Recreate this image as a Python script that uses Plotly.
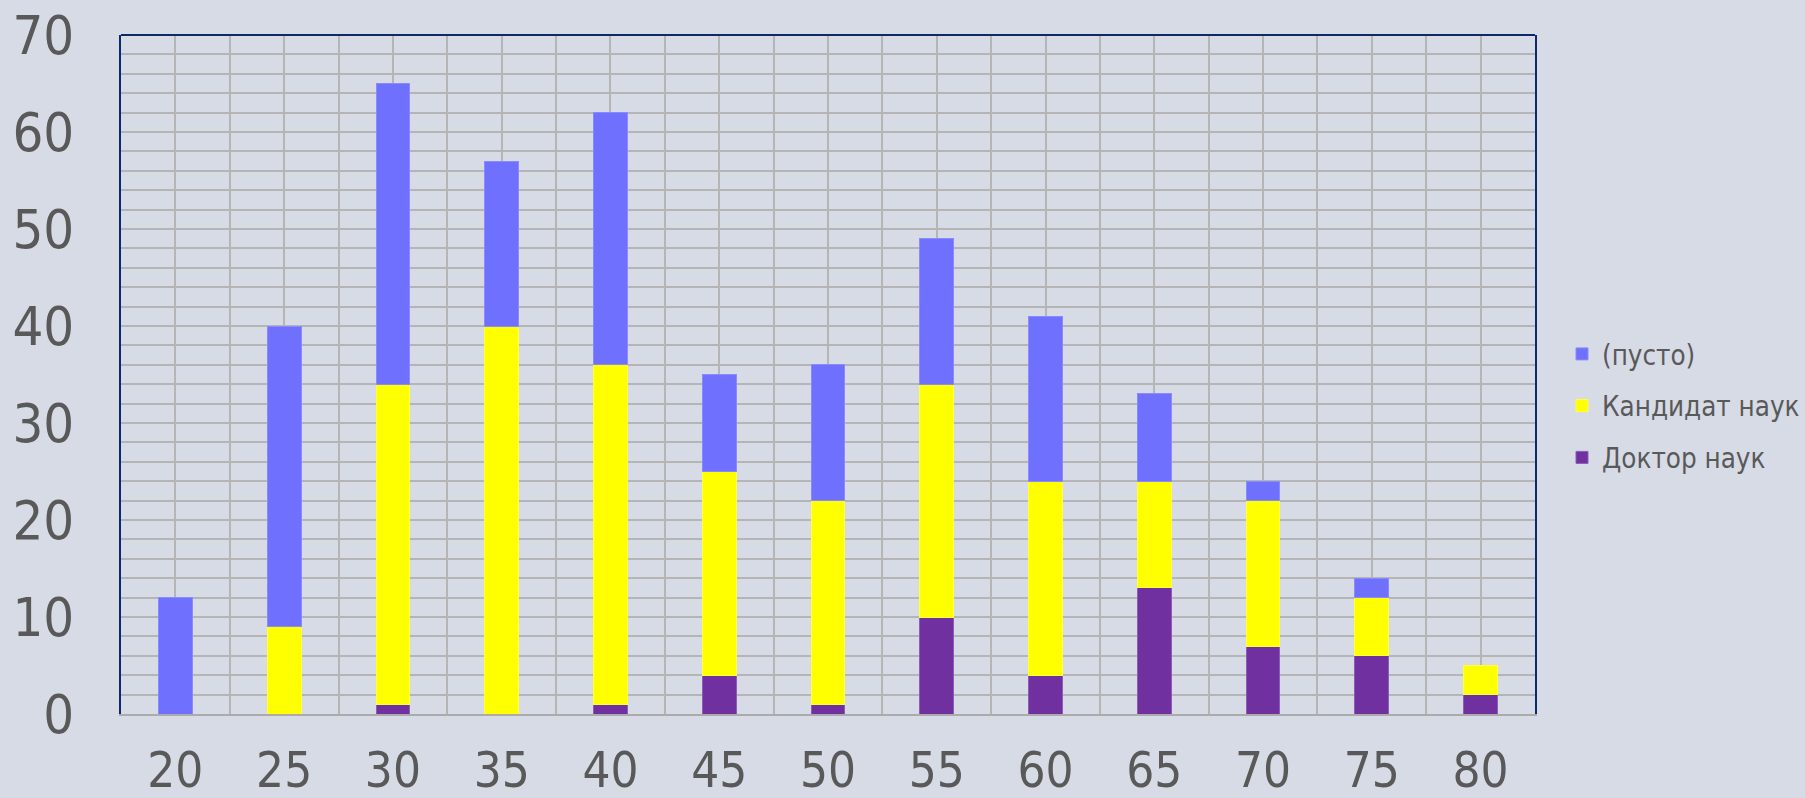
import plotly.graph_objects as go

ages = [20, 25, 30, 35, 40, 45, 50, 55, 60, 65, 70, 75, 80]
doktor = [0, 0, 1, 0, 1, 4, 1, 10, 4, 13, 7, 6, 2]
kandidat = [0, 9, 33, 40, 35, 21, 21, 24, 20, 11, 15, 6, 3]
pusto = [12, 31, 31, 17, 26, 10, 14, 15, 17, 9, 2, 2, 0]

series_names = ["Доктор наук", "Кандидат наук", "(пусто)"]
series_values = [doktor, kandidat, pusto]
series_colors = ["#7030A0", "#FFFF00", "#7070FF"]
edge_colors = ["#8C5CB8", "#FFFF40", "#8A8AFF"]
legend_ranks = [3, 2, 1]

y_ticks = [0, 10, 20, 30, 40, 50, 60, 70]
x_ticks = ages

FONT = "DejaVu Sans Condensed, DejaVu Sans, sans-serif"
TEXT = "#595959"
BG = "#D7DBE5"
GRID = "#B5B5B5"
NAVY = "#0C2A6A"

W, H = 1805, 798
ML, MT, MB = 121, 35, 84
PLOT_RIGHT = 1535
inner_w = W - ML  # margin r = 0
dom_end = (PLOT_RIGHT - ML) / inner_w
legend_x = (1562 - ML) / inner_w

fig = go.Figure()
for name, vals, col, edge, rank in zip(series_names, series_values, series_colors, edge_colors, legend_ranks):
    fig.add_trace(go.Bar(
        x=ages, y=[v if v else None for v in vals], name=name, width=1.55,
        marker=dict(color=col, line=dict(color=edge, width=1)),
        legendgroup=name, legendrank=rank,
    ))

fig.update_layout(
    barmode="stack",
    width=W, height=H,
    paper_bgcolor=BG, plot_bgcolor=BG,
    margin=dict(l=ML, r=0, t=MT, b=MB),
    font=dict(family=FONT, color=TEXT),
    legend=dict(
        x=legend_x, xanchor="left", y=0.4536, yanchor="middle",
        traceorder="grouped", tracegroupgap=13,
        font=dict(size=27.5, color=TEXT, family=FONT),
        bgcolor="rgba(0,0,0,0)",
    ),
    xaxis=dict(
        domain=[0, dom_end],
        range=[17.5, 82.5], tickvals=x_ticks, ticktext=[str(v) for v in x_ticks],
        showgrid=True, gridcolor=GRID, gridwidth=2,
        minor=dict(dtick=2.5, tick0=17.5, showgrid=True, gridcolor=GRID, gridwidth=2),
        showline=True, linecolor="#ABABAB", linewidth=2,
        ticks="outside", ticklen=12, tickcolor="rgba(0,0,0,0)",
        tickfont=dict(size=49, color=TEXT, family=FONT),
        zeroline=False, automargin=False,
    ),
    yaxis=dict(
        range=[0, 70], tickvals=y_ticks,
        showgrid=True, gridcolor=GRID, gridwidth=2,
        minor=dict(dtick=2, showgrid=True, gridcolor=GRID, gridwidth=2),
        showline=True, linecolor=NAVY, linewidth=2, mirror=True,
        ticks="outside", ticklen=34, tickcolor="rgba(0,0,0,0)",
        tickfont=dict(size=54, color=TEXT, family=FONT),
        zeroline=False, automargin=False,
    ),
    shapes=[dict(type="line", xref="x domain", yref="y domain", x0=0, x1=1, y0=1, y1=1,
                 line=dict(color=NAVY, width=2))],
)

fig.write_html(
    "out.html",
    config={"displayModeBar": False},
    post_script="document.body.style.margin='0';document.body.style.overflow='hidden';",
)
